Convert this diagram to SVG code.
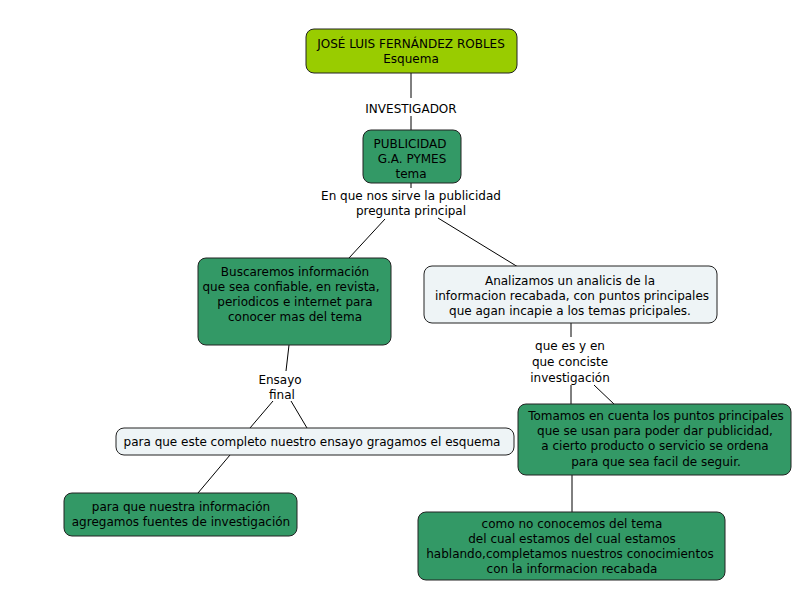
<svg xmlns="http://www.w3.org/2000/svg" width="803" height="610" viewBox="0 0 803 610">
<style>
text{font-family:"DejaVu Sans",Verdana,sans-serif;font-size:12px;fill:#000;text-anchor:middle}
.n{stroke:#222;stroke-width:1}
.g{fill:#339966}
.y{fill:#99cc00}
.l{fill:#eef4f6}
.c line{stroke:#000;stroke-width:1}
</style>
<rect width="803" height="610" fill="#fff"/>
<g class="c">
<line x1="411" y1="73" x2="411" y2="98"/>
<line x1="411" y1="116" x2="411" y2="130"/>
<line x1="411" y1="183" x2="411" y2="188"/>
<line x1="385" y1="219" x2="349" y2="258"/>
<line x1="438" y1="218" x2="518" y2="267"/>
<line x1="571" y1="323" x2="571" y2="337"/>
<line x1="571" y1="385" x2="571" y2="405"/>
<line x1="594" y1="385" x2="615" y2="405"/>
<line x1="572" y1="475" x2="572" y2="512"/>
<line x1="289" y1="345" x2="286" y2="371"/>
<line x1="273" y1="401" x2="250" y2="428"/>
<line x1="291" y1="401" x2="307" y2="428"/>
<line x1="230" y1="455" x2="198" y2="493"/>
</g>
<g id="labels">
<text x="411" y="113">INVESTIGADOR</text>
<text x="411" y="200">En que nos sirve la publicidad</text>
<text x="411" y="215">pregunta principal</text>
<text x="570" y="350">que es y en</text>
<text x="570" y="366">que conciste</text>
<text x="570" y="382">investigación</text>
<text x="280" y="384">Ensayo</text>
<text x="282" y="399">final</text>
</g>
<g id="n1">
<rect class="n y" x="306" y="29" width="211" height="44" rx="8"/>
<text x="411" y="48">JOSÉ LUIS FERNÁNDEZ ROBLES</text>
<text x="411" y="63">Esquema</text>
</g>
<g id="n2">
<rect class="n g" x="363" y="130" width="98" height="53" rx="8"/>
<text x="410" y="148">PUBLICIDAD</text>
<text x="412" y="163">G.A. PYMES</text>
<text x="411" y="178">tema</text>
</g>
<g id="n3">
<rect class="n g" x="198" y="258" width="193" height="87" rx="8"/>
<text x="295" y="276">Buscaremos información</text>
<text x="291" y="291">que sea confiable, en revista,</text>
<text x="295" y="306">periodicos e internet para</text>
<text x="295" y="321">conocer mas del tema</text>
</g>
<g id="n4">
<rect class="n l" x="424" y="266" width="293" height="57" rx="8"/>
<text x="570" y="285">Analizamos un analicis de la</text>
<text x="572" y="300">informacion recabada, con puntos principales</text>
<text x="570" y="315">que agan incapie a los temas pricipales.</text>
</g>
<g id="n5">
<rect class="n g" x="518" y="404" width="273" height="71" rx="8"/>
<text x="656" y="420">Tomamos en cuenta los puntos principales</text>
<text x="655" y="435">que se usan para poder dar publicidad,</text>
<text x="655" y="450">a cierto producto o servicio se ordena</text>
<text x="656" y="466">para que sea facil de seguir.</text>
</g>
<g id="n6">
<rect class="n g" x="418" y="512" width="307" height="68" rx="8"/>
<text x="572" y="528">como no conocemos del tema</text>
<text x="572" y="543">del cual estamos del cual estamos</text>
<text x="570" y="558">hablando,completamos nuestros conocimientos</text>
<text x="572" y="573">con la informacion recabada</text>
</g>
<g id="n7">
<rect class="n l" x="116" y="428" width="398" height="27" rx="8"/>
<text x="312" y="446">para que este completo nuestro ensayo gragamos el esquema</text>
</g>
<g id="n8">
<rect class="n g" x="64" y="493" width="233" height="43" rx="8"/>
<text x="181" y="511">para que nuestra información</text>
<text x="181" y="526">agregamos fuentes de investigación</text>
</g>
</svg>
